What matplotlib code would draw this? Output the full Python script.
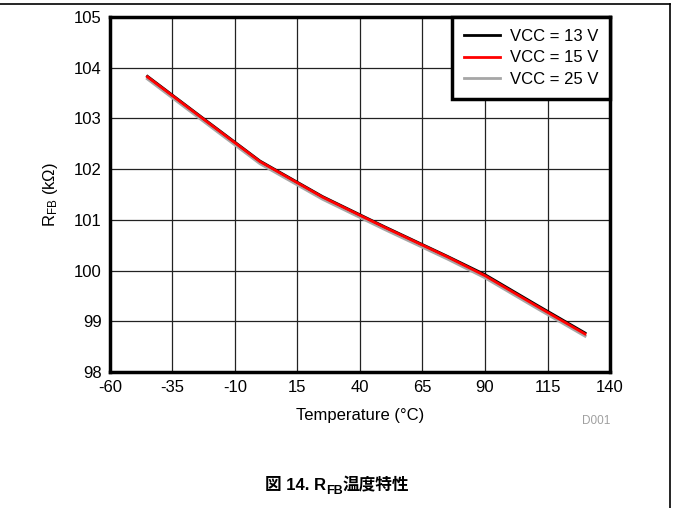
import matplotlib
matplotlib.use('Agg')
import matplotlib.pyplot as plt
from matplotlib.lines import Line2D

plt.rcParams['font.family'] = ['Liberation Sans', 'Noto Sans CJK JP', 'DejaVu Sans']
plt.rcParams['mathtext.fontset'] = 'custom'
plt.rcParams['mathtext.rm'] = 'Liberation Sans'
plt.rcParams['mathtext.it'] = 'Liberation Sans:italic'
plt.rcParams['mathtext.bf'] = 'Liberation Sans:bold'
plt.rcParams['axes.unicode_minus'] = False

# 数据
temperature = [-45, -20, 0, 25, 50, 75, 90, 110, 130]
r_vcc15 = [103.82, 102.89, 102.15, 101.45, 100.85, 100.27, 99.90, 99.32, 98.75]
r_vcc13 = [103.83, 102.90, 102.16, 101.46, 100.86, 100.28, 99.92, 99.34, 98.77]
r_vcc25 = [103.78, 102.85, 102.11, 101.41, 100.81, 100.23, 99.86, 99.28, 98.71]

x_ticks = [-60, -35, -10, 15, 40, 65, 90, 115, 140]
y_ticks = [98, 99, 100, 101, 102, 103, 104, 105]

fig = plt.figure(figsize=(6.73, 5.08), dpi=100)
ax = fig.add_axes([0.1634, 0.2677, 0.743, 0.6988])

# 绘制曲线
ax.plot(temperature, r_vcc25, color='#a6a6a6', linewidth=2.2, label='VCC = 25 V', zorder=3)
ax.plot(temperature, r_vcc13, color='black', linewidth=2.0, label='VCC = 13 V', zorder=4)
ax.plot(temperature, r_vcc15, color='#ff0000', linewidth=2.0, label='VCC = 15 V', zorder=5)

ax.set_xlim(-60, 140)
ax.set_ylim(98, 105)
ax.set_xticks(x_ticks)
ax.set_yticks(y_ticks)
ax.tick_params(length=0, labelsize=12, pad=6)
ax.grid(True, color='#222222', linewidth=0.9)
for s in ax.spines.values():
    s.set_linewidth(2.5)

ax.set_xlabel('Temperature (°C)', fontsize=12, labelpad=9)
ax.set_ylabel(r'R$_{\mathrm{FB}}$ (k$\Omega$)', fontsize=12, labelpad=10)

# 图例
handles, labels = ax.get_legend_handles_labels()
order = [1, 2, 0]
leg = ax.legend([handles[i] for i in order], [labels[i] for i in order],
                loc='upper right', fontsize=12, frameon=True, fancybox=False,
                framealpha=1, borderaxespad=0, handlelength=2.2, handletextpad=0.55,
                labelspacing=0.38, borderpad=0.72)
leg.get_frame().set_edgecolor('black')
leg.get_frame().set_linewidth(2.5)
leg.set_zorder(10)
for h in leg.get_lines():
    h.set_linewidth(2.0)

fig.text(610 / 673, 1 - 421 / 508, 'D001', color='#a0a0a0', fontsize=8.5,
         ha='right', va='center')

# 标题（图 14. R_FB温度特性）
t1 = fig.text(272 / 673, 1 - 490 / 508, '図 14. R', fontsize=12, fontweight='bold',
              ha='left', va='baseline')
a2 = ax.annotate('FB', xy=(1, 0), xycoords=t1, xytext=(0, -3), textcoords='offset points',
                 fontsize=9, fontweight='bold', ha='left', va='bottom', annotation_clip=False)
a3 = ax.annotate('温度特性', xy=(1, 0), xycoords=a2, xytext=(0, 3), textcoords='offset points',
                 fontsize=12, fontweight='bold', ha='left', va='bottom', annotation_clip=False)

# 居中标题
fig.canvas.draw()
r = fig.canvas.get_renderer()
x0 = t1.get_window_extent(r).x0
x1 = a3.get_window_extent(r).x1
shift = 337 - (x0 + x1) / 2
t1.set_x(t1.get_position()[0] + shift / 673)

# 外框线
fig.add_artist(Line2D([0, 670 / 673], [1 - 4 / 508, 1 - 4 / 508], transform=fig.transFigure,
                      color='black', linewidth=1.2))
fig.add_artist(Line2D([670 / 673, 670 / 673], [0, 1 - 4 / 508], transform=fig.transFigure,
                      color='black', linewidth=1.2))

fig.savefig('out.png', dpi=100)
